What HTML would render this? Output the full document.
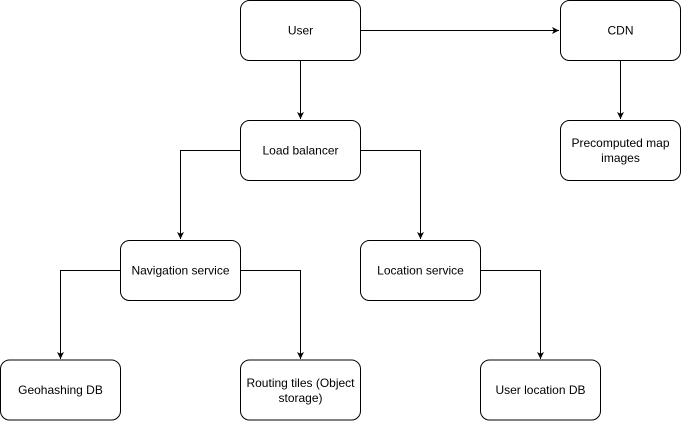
<!DOCTYPE html>
<html><head><meta charset="utf-8"><style>
html,body{margin:0;padding:0;background:#fff;}
svg{display:block;}
text{font-family:"Liberation Sans",Arial,sans-serif;font-size:12px;fill:#000;}
</style></head><body>
<svg width="681" height="421" viewBox="0 0 681 421" xmlns="http://www.w3.org/2000/svg">
<defs>
<marker id="a" markerWidth="8" markerHeight="8" refX="7" refY="4" orient="auto" markerUnits="userSpaceOnUse">
<path d="M0,0.5 L7,4 L0,7.5 L1.8,4 Z" fill="#000"/>
</marker>
</defs>
<g fill="none" stroke="#000" stroke-width="1" marker-end="url(#a)">
<path d="M360.5,30.5 H559"/>
<path d="M300.5,60.5 V119"/>
<path d="M620.5,60.5 V119"/>
<path d="M240.5,150.5 H180.5 V239"/>
<path d="M360.5,150.5 H420.5 V239"/>
<path d="M120.5,270.5 H60.5 V359"/>
<path d="M240.5,270.5 H300.5 V359"/>
<path d="M480.5,270.5 H540.5 V359"/>
</g>
<g fill="#fff" stroke="#000" stroke-width="1">
<rect x="240.5" y="0.5" width="120" height="60" rx="9"/>
<rect x="560.5" y="0.5" width="120" height="60" rx="9"/>
<rect x="240.5" y="120.5" width="120" height="60" rx="9"/>
<rect x="560.5" y="120.5" width="120" height="60" rx="9"/>
<rect x="120.5" y="240.5" width="120" height="60" rx="9"/>
<rect x="360.5" y="240.5" width="120" height="60" rx="9"/>
<rect x="0.5" y="360" width="120" height="60" rx="9"/>
<rect x="240.5" y="360" width="120" height="60" rx="9"/>
<rect x="480.5" y="360" width="120" height="60" rx="9"/>
</g>
<g text-anchor="middle">
<text x="300.5" y="34.5">User</text>
<text x="620.5" y="34.5">CDN</text>
<text x="300.5" y="154.5">Load balancer</text>
<text x="620.5" y="147">Precomputed map</text>
<text x="620.5" y="162">images</text>
<text x="180.5" y="274.5">Navigation service</text>
<text x="420.5" y="274.5">Location service</text>
<text x="60.5" y="394">Geohashing DB</text>
<text x="300.5" y="387">Routing tiles (Object</text>
<text x="300.5" y="402">storage)</text>
<text x="540.5" y="394">User location DB</text>
</g>
</svg>
</body></html>
